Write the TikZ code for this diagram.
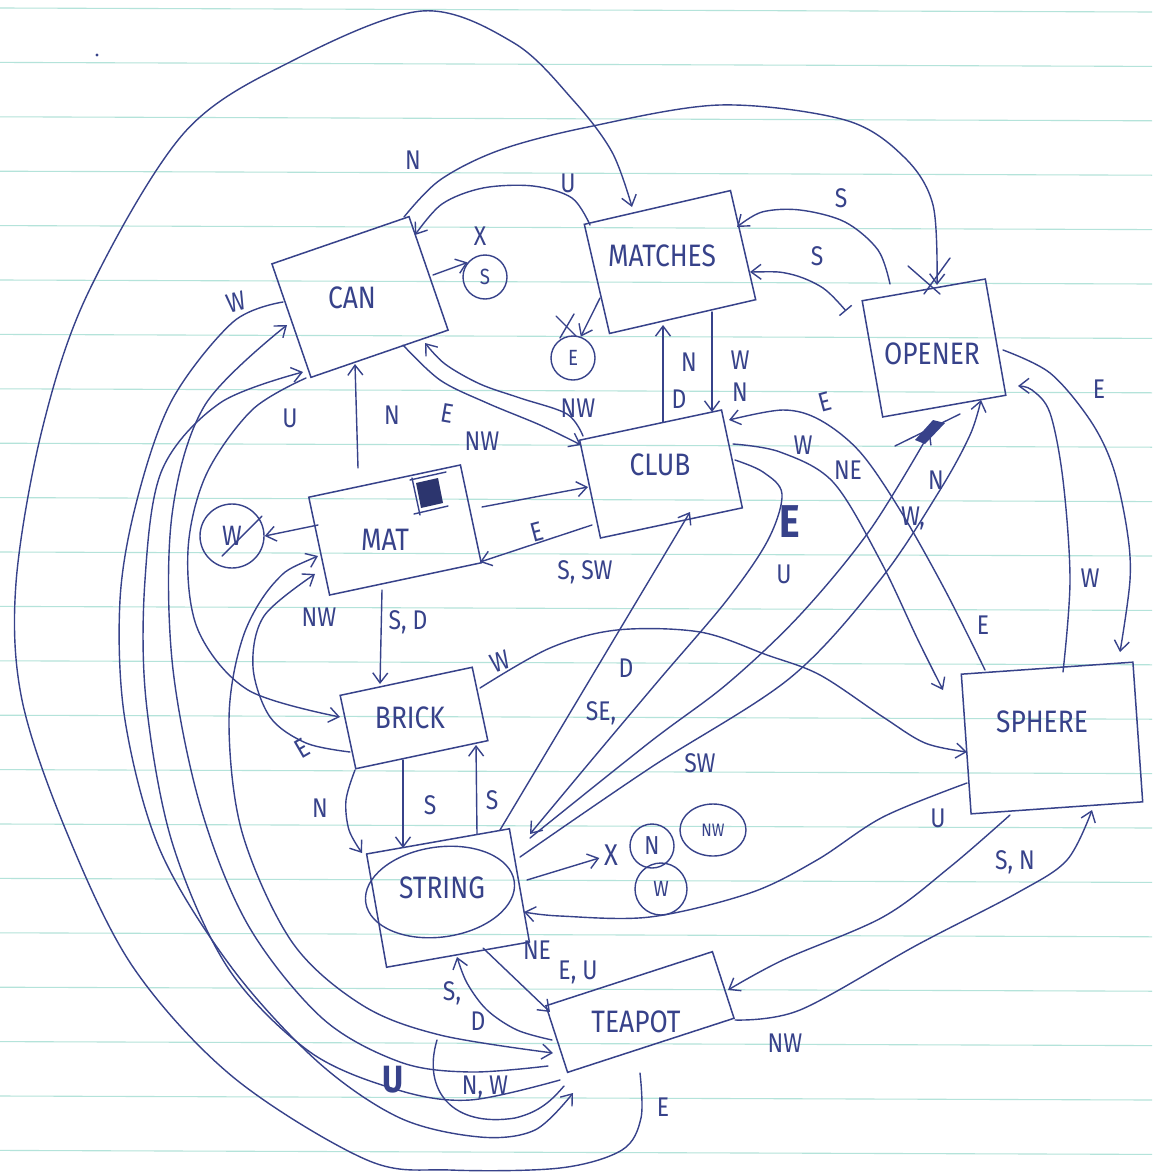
\documentclass[tikz,border=0pt]{standalone}
\usepackage{fontspec}
\setmainfont{Fira Sans}[FakeStretch=0.85]
\usetikzlibrary{arrows.meta,calc,shapes.geometric}
\definecolor{ink}{HTML}{37428A}
\definecolor{ruled}{HTML}{B4E3DA}
\begin{document}
\begin{tikzpicture}[x=1pt,y=-1pt,
  box/.style={draw=ink,line width=1.5pt,rectangle,inner sep=0pt},
  btxt/.style={text=ink,inner sep=0pt,font=\fontsize{31}{31}\selectfont},
  lab/.style={text=ink,inner sep=0pt,font=\fontsize{27}{27}\selectfont},
  blab/.style={text=ink,inner sep=0pt,font=\fontsize{46}{46}\selectfont\bfseries},
  ublab/.style={text=ink,inner sep=0pt,font=\fontsize{38}{38}\selectfont\bfseries},
  ring/.style={draw=ink,line width=1.4pt,circle,inner sep=0pt,text=ink,font=\fontsize{22}{22}\selectfont},
  wire/.style={draw=ink,line width=1.4pt,line cap=round,line join=round},
  arr/.style={wire,-{Straight Barb[length=10pt,width=15pt]}},
  darr/.style={wire,{Straight Barb[length=10pt,width=15pt]}-{Straight Barb[length=10pt,width=15pt]}},
  sm/.style={smooth,tension=0.55}]
\path[use as bounding box,fill=white] (0,0) rectangle (1152,1175);
\foreach \k in {0,...,21} {\draw[ruled,line width=1.1pt] (0,{8+54.4*\k}) -- (1152,{12+54.4*\k});}
\fill[ink] (97,55) circle (1.6);

% boxes
\node[box,minimum width=145pt,minimum height=120pt,rotate=19] (can) at (360,297) {};
\node[box,minimum width=150pt,minimum height=112pt,rotate=13] (matches) at (670,262) {};
\node[box,minimum width=125pt,minimum height=118pt,rotate=10] (opener) at (934,348) {};
\node[box,minimum width=145pt,minimum height=100pt,rotate=12] (club) at (661,474) {};
\node[box,minimum width=155pt,minimum height=100pt,rotate=12] (mat) at (395,530) {};
\node[box,minimum width=135pt,minimum height=75pt,rotate=12] (brick) at (414,718) {};
\node[box,minimum width=145pt,minimum height=115pt,rotate=10] (string) at (448,898) {};
\node[box,minimum width=175pt,minimum height=70pt,rotate=18] (teapot) at (640,1012) {};
\node[box,minimum width=172pt,minimum height=140pt,rotate=4] (sphere) at (1052,738) {};
\node[btxt] (cantxt) at (352,298) {CAN};
\node[btxt] (matchestxt) at (662,256) {MATCHES};
\node[btxt] (openertxt) at (932,354) {OPENER};
\node[btxt] (clubtxt) at (660,465) {CLUB};
\node[btxt] (mattxt) at (385,540) {MAT};
\node[btxt] (bricktxt) at (410,718) {BRICK};
\node[ring,ellipse,minimum width=150pt,minimum height=90pt,rotate=8] (stringtxt) at (440,892) {};
\node[btxt] (stringlbl) at (442,888) {STRING};
\node[btxt] (teapottxt) at (636,1022) {TEAPOT};
\node[btxt] (spheretxt) at (1042,722) {SPHERE};

% circles
\node[ring,minimum size=44pt] (scirc) at (485,277) {S};
\node[ring,minimum size=44pt] (ecirc) at (573,358) {E};
\node[ring,minimum size=64pt,font=\fontsize{28}{28}\selectfont] (wcirc) at (232,536) {W};
\node[ring,minimum size=44pt,font=\fontsize{26}{26}\selectfont] (ncirc) at (652,846) {N};
\node[ring,ellipse,minimum width=66pt,minimum height=52pt,font=\fontsize{18}{18}\selectfont] (nwcirc) at (713,830) {NW};
\node[ring,minimum size=52pt] (w2circ) at (661,889) {W};

% mat scribble
\fill[ink!80!black] (416,483) -- (438,478) -- (443,503) -- (421,508) -- cycle;
\draw[wire] (410,480) -- (446,472);
\draw[wire] (414,514) -- (448,506);
\draw[wire] (412,478) -- (420,515);

% outer left curves
\draw[arr] plot[sm] coordinates {($(teapot.center)+(0,61)$) (641,1118) (622,1150) (560,1168) (450,1170) (367,1160) (233,1077) (133,967) (67,833) (22,700) (16,583) (42,430) (88,293) (184,133) (294,60) (422,11) (514,43) (573,100) (612,152) ($(matches.center)+(-38,-55)$)};
\draw[arr] plot[sm] coordinates {($(can.center)+(-77,5)$) (233,322) (172,400) (137,500) (120,600) (125,720) (160,850) (232,968) (318,1062) (400,1118) (480,1137) (535,1130) ($(teapot.center)+(-67,81)$)};
\draw[arr] plot[sm] coordinates {($(teapot.center)+(-80,68)$) (470,1100) (398,1090) (310,1052) (228,968) (172,842) (146,700) (145,580) (162,470) (220,403) ($(can.center)+(-57,75)$)};
\draw[arr] plot[sm] coordinates {($(teapot.center)+(-92,54)$) (470,1072) (400,1062) (322,1018) (248,925) (200,805) (172,660) (172,515) (205,405) ($(can.center)+(-73,28)$)};
\draw[darr] plot[sm] coordinates {($(mat.center)+(-77,26)$) (275,582) (243,637) (229,720) (242,832) (292,942) (362,1005) (440,1035) ($(teapot.center)+(-87,41)$)};
\draw[arr] plot[sm] coordinates {($(can.center)+(-54,81)$) (252,410) (206,475) (188,550) (198,630) (248,690) ($(brick.center)+(-74,-1)$)};
\draw[arr] plot[sm] coordinates {($(brick.center)+(-64,34)$) (306,743) (270,717) (253,667) (264,616) ($(mat.center)+(-80,44)$)};
\coordinate (nwl) at (437,1040);
\draw[wire] (nwl) .. controls (422,1090) and (452,1128) .. (515,1118) .. controls (540,1112) and (552,1100) .. ($(teapot.center)+(-76,74)$);

% top
\draw[arr] plot[sm] coordinates {($(can.center)+(44,-80)$) (440,180) (500,150) (588,127) (720,105) (845,120) (904,157) (933,205) ($(opener.center)+(3,-63)$)};
\draw[wire] (908,266) -- (940,294);
\draw[wire] (950,258) -- (924,294);
\draw[arr] plot[sm] coordinates {($(matches.center)+(-80,-37)$) (572,198) (533,186) (483,188) (442,204) ($(can.center)+(55,-62)$)};
\draw[arr] ($(can.center)+(73,-22)$) -- (scirc.140);
\draw[arr] ($(matches.center)+(-70,36)$) -- (ecirc.70);
\draw[wire] (556,316) -- (576,336);
\draw[wire] (560,338) -- (574,314);
\draw[arr] plot[sm] coordinates {($(opener.center)+(-44,-64)$) (878,250) (845,222) (800,210) (762,212) ($(matches.center)+(67,-35)$)};
\draw[wire,{Straight Barb[length=10pt,width=15pt]}-{Bar[width=16pt]}] plot[sm] coordinates {($(matches.center)+(80,10)$) (790,274) (823,288) ($(opener.center)+(-88,-37)$)};
\draw[arr] ($(matches.center)+(42,50)$) -- ($(club.center)+(51,-62)$);
\draw[arr] ($(club.center)+(2,-52)$) -- ($(matches.center)+(-7,63)$);

% middle
\draw[arr] plot[sm] coordinates {($(can.center)+(43,48)$) (440,380) (487,403) (540,425) ($(club.center)+(-80,-29)$)};
\draw[arr] plot[sm] coordinates {($(club.center)+(-78,-38)$) (567,414) (520,398) (480,384) (445,364) ($(can.center)+(65,46)$)};
\draw[arr] ($(mat.center)+(-37,-62)$) -- ($(can.center)+(-5,67)$);
\draw[arr] ($(mat.center)+(87,-23)$) -- ($(club.center)+(-73,13)$);
\draw[arr] ($(club.center)+(-69,51)$) -- ($(mat.center)+(85,32)$);
\draw[arr] ($(mat.center)+(-13,60)$) -- ($(brick.center)+(-34,-34)$);
\draw[arr] ($(mat.center)+(-77,-5)$) -- (wcirc.east);
\draw[wire] (222,556) -- (262,516);
\draw[arr] ($(brick.center)+(-11,42)$) -- ($(string.center)+(-45,-50)$);
\draw[arr] ($(string.center)+(29,-64)$) -- ($(brick.center)+(62,27)$);
\draw[arr] plot[sm] coordinates {($(brick.center)+(-59,52)$) (346,800) (349,830) ($(string.center)+(-86,-45)$)};
\draw[arr] plot[sm] coordinates {($(brick.center)+(66,-30)$) (550,648) (617,630) (700,632) (767,655) (820,675) (883,717) (925,743) ($(sphere.center)+(-85,14)$)};
\draw[arr] ($(string.center)+(52,-68)$) -- ($(club.center)+(29,38)$);
\draw[arr] plot[sm] coordinates {($(club.center)+(74,-14)$) (763,472) (782,494) (768,540) (727,600) (659,680) (590,762) ($(string.center)+(82,-64)$)};
\draw[arr] plot[sm] coordinates {($(string.center)+(82,-60)$) (650,742) (727,684) (800,615) (870,530) ($(opener.center)+(-4,84)$)};
\fill[ink] (915,440) -- (933,420) -- (945,423) -- (925,444) -- cycle;
\draw[wire] (895,446) -- (960,414);
\draw[arr] plot[sm] coordinates {($(string.center)+(72,-41)$) (650,768) (790,678) (880,580) (940,490) (970,435) ($(opener.center)+(47,52)$)};

% right
\draw[arr] plot[sm] coordinates {($(opener.center)+(69,2)$) (1050,373) (1090,420) (1113,467) (1127,530) (1130,580) ($(sphere.center)+(68,-86)$)};
\draw[arr] plot[sm] coordinates {($(sphere.center)+(11,-66)$) (1070,580) (1063,480) (1050,413) (1032,390) ($(opener.center)+(84,38)$)};
\draw[arr] plot[sm] coordinates {($(club.center)+(72,-30)$) (780,452) (833,482) (880,560) (918,640) ($(sphere.center)+(-109,-48)$)};
\draw[arr] plot[sm] coordinates {($(sphere.center)+(-67,-68)$) (945,590) (900,510) (860,452) (820,420) (783,410) ($(club.center)+(68,-54)$)};
\draw[arr] plot[sm] coordinates {($(sphere.center)+(-85,45)$) (883,817) (817,860) (750,893) (650,917) (560,916) ($(string.center)+(76,14)$)};
\draw[arr] plot[sm] coordinates {($(sphere.center)+(-42,77)$) (950,867) (883,917) (783,960) ($(teapot.center)+(88,-22)$)};
\draw[arr] plot[sm] coordinates {($(teapot.center)+(95,8)$) (800,1010) (917,945) (1017,893) (1067,860) ($(sphere.center)+(40,72)$)};

% bottom
\draw[arr] plot[sm] coordinates {($(teapot.center)+(-88,28)$) (517,1030) (487,1010) (467,983) ($(string.center)+(9,59)$)};
\draw[arr] ($(string.center)+(35,50)$) -- ($(teapot.center)+(-90,0)$);
\draw[arr] ($(string.center)+(79,-18)$) -- ($(ncirc.west)+(-30,12)$);

% labels
\node[lab] (t01) at (413,160) {N};
\node[lab] (t02) at (568,183) {U};
\node[lab,rotate=15] (t03) at (236,302) {W};
\node[lab] (t04) at (480,236) {X};
\node[lab] (t05) at (841,198) {S};
\node[lab] (t06) at (817,256) {S};
\node[lab] (t07) at (740,360) {W};
\node[lab] (t08) at (740,392) {N};
\node[lab] (t09) at (689,362) {N};
\node[lab] (t10) at (679,399) {D};
\node[lab,rotate=-10] (t11) at (447,413) {E};
\node[lab] (t12) at (482,441) {NW};
\node[lab] (t13) at (578,408) {NW};
\node[lab] (t14) at (392,415) {N};
\node[lab] (t15) at (290,418) {U};
\node[lab,rotate=15] (t16) at (537,532) {E};
\node[lab] (t17) at (585,572) {S, SW};
\node[lab] (t18) at (319,617) {NW};
\node[lab] (t19) at (408,622) {S, D};
\node[lab,rotate=20] (t20) at (500,662) {W};
\node[lab,rotate=30] (t21) at (302,748) {E};
\node[lab] (t22) at (320,808) {N};
\node[lab] (t23) at (430,805) {S};
\node[lab] (t24) at (492,800) {S};
\node[lab] (t25a) at (601,713) {SE,};
\node[lab] (t25b) at (626,668) {D};
\node[blab] (t26) at (790,522) {E};
\node[lab] (t27) at (784,574) {U};
\node[lab,rotate=15] (t28) at (825,402) {E};
\node[lab] (t29) at (803,445) {W};
\node[lab] (t30) at (848,470) {NE};
\node[lab] (t31a) at (913,518) {W,};
\node[lab] (t31b) at (936,480) {N};
\node[lab] (t32) at (1099,389) {E};
\node[lab] (t33) at (1090,578) {W};
\node[lab] (t34) at (983,625) {E};
\node[lab] (t35) at (700,763) {SW};
\node[lab] (t36) at (938,818) {U};
\node[lab] (t37) at (1015,862) {S, N};
\node[lab] (t38) at (785,1043) {NW};
\node[lab] (t39) at (663,1107) {E};
\node[ublab] (t40) at (393,1080) {U};
\node[lab] (t41) at (485,1087) {N, W};
\node[lab] (t42a) at (452,993) {S,};
\node[lab] (t42b) at (478,1021) {D};
\node[lab] (t43) at (537,950) {NE};
\node[lab] (t44) at (578,972) {E, U};
\node[lab,font=\fontsize{30}{30}\selectfont] (t45) at (611,855) {X};
\end{tikzpicture}
\end{document}
